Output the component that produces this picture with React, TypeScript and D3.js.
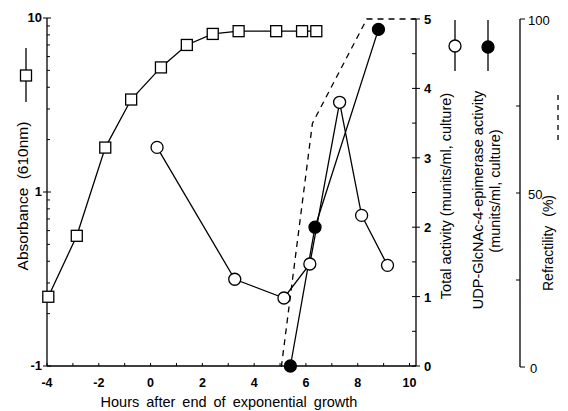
import React from "react";
import * as d3 from "d3";

// absorbance (610nm), log scale
const absHours = [-3.95, -2.85, -1.75, -0.75, 0.4, 1.4, 2.4, 3.4, 4.85, 5.85, 6.4];
const absValues = [0.25, 0.56, 1.8, 3.4, 5.2, 7.0, 8.1, 8.4, 8.4, 8.4, 8.4];

// total activity (open circles)
const totHours = [0.25, 3.25, 5.15, 6.15, 7.3, 8.15, 9.15];
const totValues = [3.15, 1.25, 0.98, 1.47, 3.8, 2.17, 1.45];

// UDP-GlcNAc-4-epimerase activity (filled circles)
const epiHours = [5.4, 6.35, 8.8];
const epiValues = [0, 2.0, 4.85];

// refractility (dashed)
const refHours = [5.05, 6.25, 8.35, 10.25];
const refValues = [0, 70, 100, 100];

const xTicks = [-4, -3, -2, -1, 0, 1, 2, 3, 4, 5, 6, 7, 8, 9, 10];
const xLabels = [-4, -2, 0, 2, 4, 6, 8, 10];
const logMajor = [0.1, 1, 10];
const logLabels = ["-1", "1", "10"];
const actTicks = [0, 0.5, 1, 1.5, 2, 2.5, 3, 3.5, 4, 4.5, 5];
const actLabels = [0, 1, 2, 3, 4, 5];
const refTicks = [0, 25, 50, 75, 100];
const refLabels = [0, 50, 100];

const font = "'Liberation Sans', Arial, sans-serif";

const App = () => {
  const x = d3.scaleLinear().domain([-4, 10.25]).range([47, 416]);
  const yAbs = d3.scaleLog().domain([0.1, 10]).range([366, 18]);
  const yAct = d3.scaleLinear().domain([0, 5]).range([366, 19]);
  const yRef = d3.scaleLinear().domain([0, 100]).range([367, 19]);

  const line = d3.line<[number, number]>();
  const absPath = line(absHours.map((h, i) => [x(h), yAbs(absValues[i])]));
  const totPath = line(totHours.map((h, i) => [x(h), yAct(totValues[i])]));
  const epiPath = line(epiHours.map((h, i) => [x(h), yAct(epiValues[i])]));
  const refPath = line(refHours.map((h, i) => [x(h), yRef(refValues[i])]));

  const minorLog: number[] = [];
  [0.1, 1].forEach(d => {
    for (let k = 2; k <= 9; k++) minorLog.push(d * k);
  });

  const sw = 1.3;

  return (
    <svg
      width={568}
      height={411}
      style={{ position: "absolute", left: 0, top: 0, background: "white" }}
      fontFamily={font}
    >
      {/* bottom axis */}
      <line x1={47} x2={416} y1={366} y2={366} stroke="black" strokeWidth={sw} />
      {xTicks.map(t => (
        <line key={t} x1={x(t)} x2={x(t)} y1={366} y2={363} stroke="black" strokeWidth={1} />
      ))}
      {xLabels.map(t => (
        <text key={t} x={x(t)} y={387} textAnchor="middle" fontSize={12.5} fontWeight="bold">
          {t}
        </text>
      ))}
      <text x={229} y={407} textAnchor="middle" fontSize={14.5} wordSpacing={3}>
        Hours after end of exponential growth
      </text>

      {/* left log axis */}
      <line x1={47} x2={47} y1={18} y2={366} stroke="black" strokeWidth={sw} />
      {minorLog.map(t => (
        <line key={t} x1={47} x2={50} y1={yAbs(t)} y2={yAbs(t)} stroke="black" strokeWidth={1} />
      ))}
      {logMajor.map((t, i) => (
        <g key={t}>
          <line x1={43} x2={51} y1={yAbs(t)} y2={yAbs(t)} stroke="black" strokeWidth={1} />
          <text x={42} y={yAbs(t) + 4} textAnchor="end" fontSize={13} fontWeight="bold">
            {logLabels[i]}
          </text>
        </g>
      ))}
      <text
        transform="translate(28 196) rotate(-90)"
        textAnchor="middle"
        fontSize={15.5}
        wordSpacing={4}
      >
        Absorbance (610nm)
      </text>
      <line x1={26} x2={26} y1={48} y2={102} stroke="black" strokeWidth={sw} />
      <rect x={20.5} y={70} width={11} height={11} fill="white" stroke="black" strokeWidth={sw} />

      {/* activity axis */}
      <line x1={416} x2={416} y1={19} y2={366} stroke="black" strokeWidth={sw} />
      {actTicks.map(t => (
        <line key={t} x1={412} x2={t % 1 === 0 ? 420 : 416} y1={yAct(t)} y2={yAct(t)} stroke="black" strokeWidth={1} />
      ))}
      {actLabels.map(t => (
        <text key={t} x={424} y={yAct(t) + 5} fontSize={13} fontWeight="bold">
          {t}
        </text>
      ))}
      <text transform="translate(451 196) rotate(-90)" textAnchor="middle" fontSize={14.5}>
        Total activity (munits/ml, culture)
      </text>
      <text transform="translate(483 200) rotate(-90)" textAnchor="middle" fontSize={14.5}>
        UDP-GlcNAc-4-epimerase activity
      </text>
      <text transform="translate(500 191) rotate(-90)" textAnchor="middle" fontSize={14.5}>
        (munits/ml, culture)
      </text>
      <line x1={455} x2={455} y1={20} y2={71} stroke="black" strokeWidth={sw} />
      <circle cx={455} cy={46} r={6} fill="white" stroke="black" strokeWidth={sw} />
      <line x1={488} x2={488} y1={20} y2={71} stroke="black" strokeWidth={sw} />
      <circle cx={488} cy={47} r={6} fill="black" stroke="black" strokeWidth={sw} />

      {/* refractility axis */}
      <line x1={520} x2={520} y1={19} y2={367} stroke="black" strokeWidth={sw} />
      {refTicks.map(t => (
        <line
          key={t}
          x1={t === 0 || t === 100 ? 520 : 516}
          x2={t === 0 || t === 100 ? 525 : 520}
          y1={yRef(t)}
          y2={yRef(t)}
          stroke="black"
          strokeWidth={1}
        />
      ))}
      {refLabels.map(t => (
        <text key={t} x={t === 0 ? 530 : 528} y={yRef(t) + 6} fontSize={13}>
          {t}
        </text>
      ))}
      <text transform="translate(553 243) rotate(-90)" textAnchor="middle" fontSize={14} wordSpacing={5}>
        Refractility (%)
      </text>
      <line x1={558} x2={558} y1={95} y2={140} stroke="black" strokeWidth={sw} strokeDasharray="5 5" />

      {/* series */}
      <path d={refPath ?? ""} fill="none" stroke="black" strokeWidth={sw} strokeDasharray="6 5" />
      <path d={absPath ?? ""} fill="none" stroke="black" strokeWidth={sw} />
      <path d={totPath ?? ""} fill="none" stroke="black" strokeWidth={sw} />
      <path d={epiPath ?? ""} fill="none" stroke="black" strokeWidth={sw} />
      {absHours.map((h, i) => (
        <rect
          key={i}
          x={x(h) - 5.5}
          y={yAbs(absValues[i]) - 5.5}
          width={11}
          height={11}
          fill="white"
          stroke="black"
          strokeWidth={sw}
        />
      ))}
      {totHours.map((h, i) => (
        <circle key={i} cx={x(h)} cy={yAct(totValues[i])} r={6} fill="white" stroke="black" strokeWidth={sw} />
      ))}
      {epiHours.map((h, i) => (
        <circle key={i} cx={x(h)} cy={yAct(epiValues[i])} r={6} fill="black" stroke="black" strokeWidth={sw} />
      ))}
    </svg>
  );
};

export default App;
